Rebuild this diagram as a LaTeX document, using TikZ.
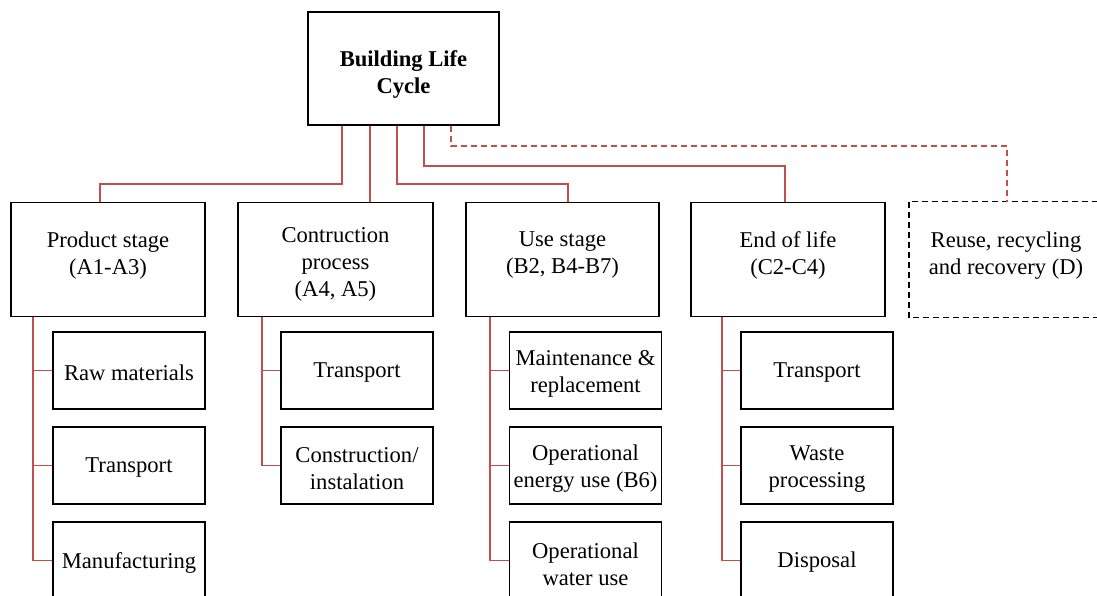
\documentclass[tikz,border=0pt]{standalone}
\usepackage{fontspec}
\setmainfont{Liberation Serif}
\definecolor{conred}{RGB}{192,80,77}
\begin{document}
\begin{tikzpicture}[x=1pt,y=-1pt,
  box/.style={draw=black,line width=1.8pt,rectangle,inner sep=0pt},
  txt/.style={align=center,inner sep=0pt,font=\fontsize{22.6}{27}\selectfont},
  stagebox/.style={box,minimum width=193pt,minimum height=114pt},
  subbox/.style={box,minimum width=152pt,minimum height=77pt},
  link/.style={draw=conred,line width=1.5pt},
  dlink/.style={link,dash pattern=on 6pt off 4pt}]
\clip (0,0) rectangle (1097,596);
\useasboundingbox (0,0) rectangle (1097,596);
% main boxes
\node[box,minimum width=191pt,minimum height=113pt] (top) at (403.5,68.5) {};
\node[txt,font=\bfseries\fontsize{22.6}{27}\selectfont] (topT) at ([yshift=-6pt]top.center) {Building Life\\Cycle};
\node[stagebox,minimum width=194pt] (prod) at (108,259.5) {};
\node[txt] (prodT) at ([yshift=4pt]prod.center) {Product stage\\(A1-A3)};
\node[stagebox,minimum width=195pt] (cons) at (335.5,259.5) {};
\node[txt] (consT) at ([yshift=-5pt]cons.center) {Contruction\\process\\(A4, A5)};
\node[stagebox] (use) at (562.5,259.5) {};
\node[txt] (useT) at ([yshift=4pt]use.center) {Use stage\\(B2, B4-B7)};
\node[stagebox,minimum width=194pt] (end) at (788,259.5) {};
\node[txt] (endT) at ([yshift=4pt]end.center) {End of life\\(C2-C4)};
\node[stagebox,minimum width=192pt,draw=none] (reuse) at (1006,259.5) {};
\draw[line width=1.8pt,dash pattern=on 6pt off 4pt] (reuse.north west) rectangle (reuse.south east);
\node[txt] (reuseT) at ([yshift=4pt]reuse.center) {Reuse, recycling\\and recovery (D)};
% children
\node[subbox] (p1) at (129,370.5) {};
\node[txt] (p1T) at ([yshift=-2pt]p1.center) {Raw materials};
\node[subbox] (p2) at (129,465.5) {};
\node[txt] (p2T) at ([yshift=-2pt]p2.center) {Transport};
\node[subbox] (p3) at (129,560.5) {};
\node[txt] (p3T) at ([yshift=-2pt]p3.center) {Manufacturing};
\node[subbox] (c1) at (357,370.5) {};
\node[txt] (c1T) at ([yshift=-2pt]c1.center) {Transport};
\node[subbox] (c2) at (357,465.5) {};
\node[txt] (c2T) at ([yshift=-3pt]c2.center) {Construction/\\instalation};
\node[subbox] (u1) at (585.5,370.5) {};
\node[txt] (u1T) at ([yshift=-3pt]u1.center) {Maintenance \&\\replacement};
\node[subbox] (u2) at (585.5,465.5) {};
\node[txt] (u2T) at ([yshift=-3.5pt]u2.center) {Operational\\energy use (B6)};
\node[subbox] (u3) at (585.5,560.5) {};
\node[txt] (u3T) at ([yshift=-3.5pt]u3.center) {Operational\\water use};
\node[subbox] (e1) at (817,370.5) {};
\node[txt] (e1T) at ([yshift=-2pt]e1.center) {Transport};
\node[subbox] (e2) at (817,465.5) {};
\node[txt] (e2T) at ([yshift=-4pt]e2.center) {Waste\\processing};
\node[subbox] (e3) at (817,560.5) {};
\node[txt] (e3T) at ([yshift=-2pt]e3.center) {Disposal};
% top connectors
\draw[link] ([xshift=-61.5pt]top.south) -- ++(0,58) -| ([xshift=-8pt]prod.north);
\draw[link] ([xshift=-33.5pt]top.south) -- ([xshift=34.5pt]cons.north);
\draw[link] ([xshift=-6.5pt]top.south) -- ++(0,58) -| ([xshift=5.5pt]use.north);
\draw[link] ([xshift=20.5pt]top.south) -- ++(0,40) -| ([xshift=-3pt]end.north);
\draw[dlink] ([xshift=47.5pt]top.south) -- ++(0,20) -| ([xshift=1pt]reuse.north);
% child connectors
\foreach \c in {p1,p2,p3} \draw[link] ([xshift=-75pt]prod.south) |- (\c.west);
\foreach \c in {c1,c2} \draw[link] ([xshift=-73.5pt]cons.south) |- (\c.west);
\foreach \c in {u1,u2,u3} \draw[link] ([xshift=-72.5pt]use.south) |- (\c.west);
\foreach \c in {e1,e2,e3} \draw[link] ([xshift=-66pt]end.south) |- (\c.west);
\end{tikzpicture}
\end{document}
